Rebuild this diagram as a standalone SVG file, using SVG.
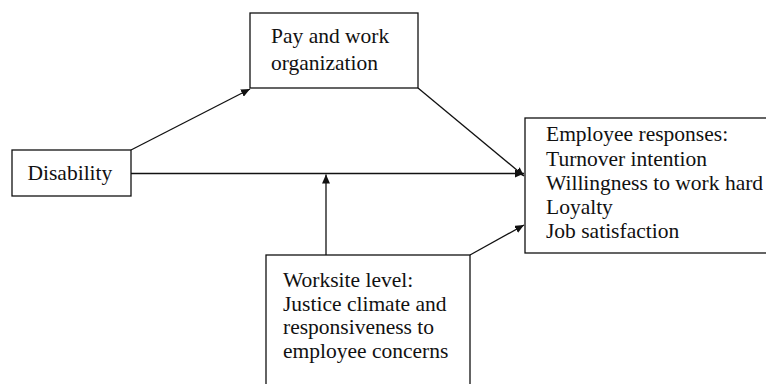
<svg xmlns="http://www.w3.org/2000/svg" width="766" height="384" viewBox="0 0 766 384">
<style>
.box{fill:#fff;stroke:#111;stroke-width:1.3}
.t{font-family:'Liberation Serif','Times New Roman',Times,Tinos,'DejaVu Serif',serif;font-size:21.5px;fill:#111}
.c{stroke:#111;stroke-width:1.3;fill:none}
</style>
<defs>
<marker id="ah" markerUnits="userSpaceOnUse" markerWidth="10" markerHeight="8" refX="9" refY="4" orient="auto">
<path d="M0,0 L9,4 L0,8 Z" fill="#111"/>
</marker>
</defs>
<rect width="766" height="384" fill="#fff"/>
<g id="connectors">
<line class="c" x1="131" y1="150" x2="250" y2="89" marker-end="url(#ah)"/>
<line class="c" x1="131" y1="173.5" x2="524" y2="173.5" marker-end="url(#ah)"/>
<line class="c" x1="418" y1="88" x2="524" y2="176" marker-end="url(#ah)"/>
<line class="c" x1="326" y1="255" x2="326" y2="174.5" marker-end="url(#ah)"/>
<line class="c" x1="470" y1="255" x2="524" y2="225" marker-end="url(#ah)"/>
</g>
<g id="disability">
<rect class="box" x="12" y="150" width="119" height="46"/>
<text class="t" font-family="Liberation Serif, serif" x="27.5" y="180">Disability</text>
</g>
<g id="pay">
<rect class="box" x="250" y="13" width="168" height="75"/>
<text class="t" x="271" y="43">Pay and work</text>
<text class="t" x="271" y="70">organization</text>
</g>
<g id="employee">
<rect class="box" x="525" y="118" width="250" height="135"/>
<text class="t" x="546" y="141">Employee responses:</text>
<text class="t" x="546" y="165.5">Turnover intention</text>
<text class="t" x="546" y="190">Willingness to work hard</text>
<text class="t" x="546" y="214">Loyalty</text>
<text class="t" x="546" y="238">Job satisfaction</text>
</g>
<g id="worksite">
<rect class="box" x="266" y="255" width="204" height="140"/>
<text class="t" x="283" y="287">Worksite level:</text>
<text class="t" x="283" y="310.5">Justice climate and</text>
<text class="t" x="283" y="334">responsiveness to</text>
<text class="t" x="283" y="358">employee concerns</text>
</g>
</svg>
